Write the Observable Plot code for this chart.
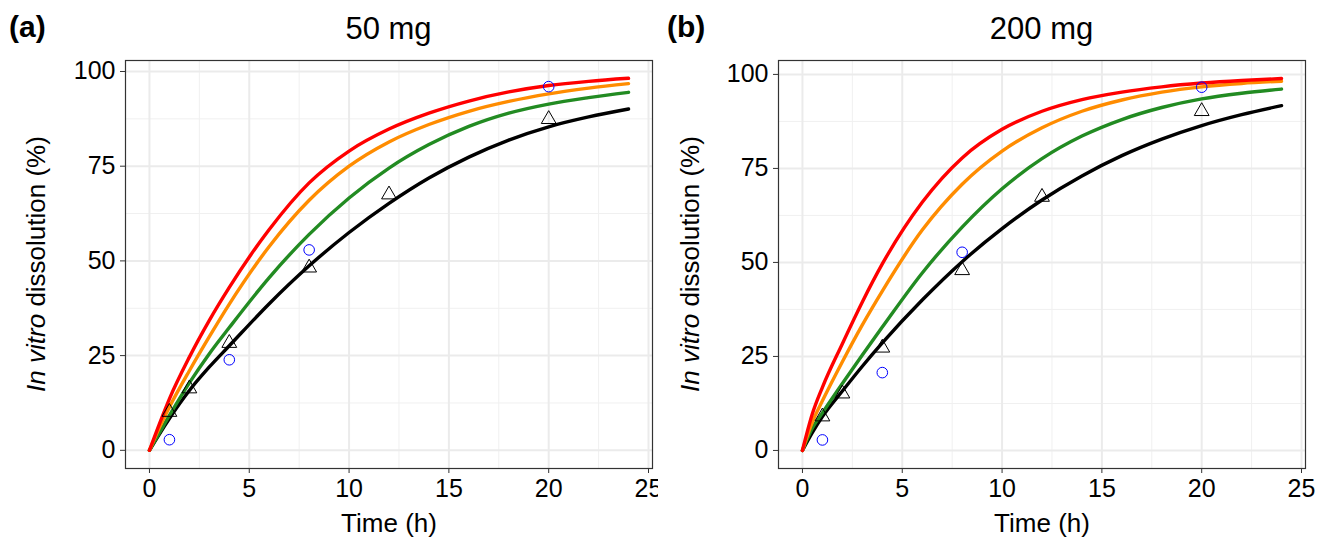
<!DOCTYPE html>
<html><head><meta charset="utf-8">
<script src="https://cdn.jsdelivr.net/npm/d3@7"></script>
<script src="https://cdn.jsdelivr.net/npm/@observablehq/plot@0.6"></script>
<style>
body{margin:0;background:#fff;font-family:"Liberation Sans",Arial,sans-serif;}
#wrap{position:relative;width:1317px;height:538px;overflow:hidden;background:#fff}
.panel{position:absolute;top:0;height:538px}
.hdr{position:relative;height:50px}
.tag{position:absolute;left:9px;top:10px;font-weight:bold;font-size:30px;color:#000}
.ttl{position:absolute;top:11px;font-size:31px;color:#000;transform:translateX(-50%);white-space:nowrap}
</style></head><body><div id="wrap"></div>
<script>
// ---- data ----
const times = [0, 0.5, 1, 2, 3, 4, 6, 8, 10, 12, 14, 16, 18, 20, 22, 24];
// panel (a) 50 mg
const a_red    = [0, 7.0, 13.6, 24.6, 34.3, 43.0, 58.3, 70.6, 79.0, 84.8, 89.0, 92.2, 94.6, 96.3, 97.4, 98.2];
const a_orange = [0, 6.0, 11.4, 21.0, 30.0, 38.6, 53.8, 66.0, 75.0, 81.4, 86.0, 89.5, 92.1, 94.1, 95.6, 96.8];
const a_green  = [0, 4.6, 9.2, 17.8, 25.5, 32.4, 45.6, 57.0, 66.6, 74.5, 80.7, 85.5, 89.0, 91.4, 93.1, 94.5];
const a_black  = [0, 4.3, 8.4, 15.8, 22.0, 27.6, 38.7, 48.7, 57.5, 65.2, 71.9, 77.4, 81.9, 85.4, 88.0, 90.1];
const a_circT = [1, 4, 8, 20];
const a_circV = [2.8, 23.9, 52.9, 96.0];
const a_triT  = [1, 2, 4, 8, 12, 20];
const a_triV  = [10.1, 16.3, 28.3, 48.2, 67.5, 87.4];
// panel (b) 200 mg
const b_red    = [0, 9.8, 16.8, 28.4, 39.5, 49.6, 66.0, 77.8, 85.4, 90.2, 93.3, 95.3, 96.7, 97.7, 98.4, 98.9];
const b_orange = [0, 7.6, 13.2, 23.6, 33.4, 42.4, 58.6, 70.8, 79.6, 85.8, 90.2, 93.2, 95.3, 96.7, 97.6, 98.2];
const b_green  = [0, 6.0, 10.0, 17.8, 25.4, 32.8, 47.2, 59.4, 69.6, 77.6, 83.6, 88.0, 91.2, 93.5, 95.0, 96.1];
const b_black  = [0, 4.8, 9.0, 15.8, 22.4, 28.6, 40.0, 50.2, 59.0, 66.6, 73.0, 78.4, 82.8, 86.4, 89.3, 91.7];
const b_circT = [1, 4, 8, 20];
const b_circV = [2.8, 20.7, 52.7, 96.6];
const b_triT  = [1, 2, 4, 8, 12, 20];
const b_triV  = [9.0, 15.1, 27.3, 47.9, 67.4, 90.2];
// ticks / labels
const xTicks = [0, 5, 10, 15, 20, 25];
const xMinor = [2.5, 7.5, 12.5, 17.5, 22.5];
const yTicks = [0, 25, 50, 75, 100];
const yMinor = [12.5, 37.5, 62.5, 87.5];
const xLabel = "Time (h)";
const yLabelItalic = "In vitro";
const yLabelRest = " dissolution (%)";
const panels = [
  {tag: "(a)", title: "50 mg", left: 0, width: 658, mL: 125, mR: 6, yDom: [-4.8, 102.9], ylabX: 36,
   red: a_red, orange: a_orange, green: a_green, black: a_black, circT: a_circT, circV: a_circV, triT: a_triT, triV: a_triV},
  {tag: "(b)", title: "200 mg", left: 658, width: 659, mL: 120, mR: 12, yDom: [-4.8, 103.7], ylabX: 32,
   red: b_red, orange: b_orange, green: b_green, black: b_black, circT: b_circT, circV: b_circV, triT: b_triT, triV: b_triV}
];
const colors = {black: "#000000", green: "#228B22", orange: "#FF8C00", red: "#FF0000"};

const wrap = document.getElementById("wrap");
const H = 488, mT = 10, mB = 70;
for (const p of panels) {
  const div = document.createElement("div");
  div.className = "panel";
  div.style.left = p.left + "px";
  div.style.width = p.width + "px";
  const hdr = document.createElement("div");
  hdr.className = "hdr";
  const tag = document.createElement("div"); tag.className = "tag"; tag.textContent = p.tag;
  const ttl = document.createElement("div"); ttl.className = "ttl"; ttl.textContent = p.title;
  ttl.style.left = (p.mL + (p.width - p.mL - p.mR) / 2) + "px";
  hdr.append(tag, ttl);
  div.append(hdr);
  const series = ["black", "green", "orange", "red"].map(k => ({k, data: times.map((t, i) => ({t, v: p[k][i]}))}));
  const circ = p.circT.map((t, i) => ({t, v: p.circV[i]}));
  const tri = p.triT.map((t, i) => ({t, v: p.triV[i]}));
  const svg = Plot.plot({
    width: p.width, height: H,
    marginLeft: p.mL, marginRight: p.mR, marginTop: mT, marginBottom: mB,
    x: {domain: [-1.2, 25.2]},
    y: {domain: p.yDom},
    style: {fontFamily: "Liberation Sans, Arial, sans-serif", background: "white", overflow: "visible"},
    marks: [
      Plot.gridX(xMinor, {stroke: "#f0f0f0", strokeOpacity: 1, strokeWidth: 1}),
      Plot.gridY(yMinor, {stroke: "#f0f0f0", strokeOpacity: 1, strokeWidth: 1}),
      Plot.gridX(xTicks, {stroke: "#ebebeb", strokeOpacity: 1, strokeWidth: 2}),
      Plot.gridY(yTicks, {stroke: "#ebebeb", strokeOpacity: 1, strokeWidth: 2}),
      ...series.map(s => Plot.line(s.data, {x: "t", y: "v", stroke: colors[s.k], strokeWidth: 3.4, curve: "monotone-x"})),
      Plot.dot(tri, {x: "t", y: "v", symbol: "triangle", r: 5.5, stroke: "#000", strokeWidth: 1, fill: "none"}),
      Plot.dot(circ, {x: "t", y: "v", symbol: "circle", r: 5.3, stroke: "#0000FF", strokeWidth: 1, fill: "none"}),
      Plot.frame({stroke: "#333", strokeWidth: 1.2}),
      Plot.axisX(xTicks, {tickSize: 5, tickPadding: 6, fontSize: 25, stroke: "#333", fill: "#000", label: null, tickFormat: d => String(d)}),
      Plot.axisY(yTicks, {tickSize: 5, tickPadding: 5, fontSize: 25, stroke: "#333", fill: "#000", label: null, tickFormat: d => String(d)}),
      Plot.text([xLabel], {frameAnchor: "bottom", dy: 55, text: d => d, fontSize: 26, fill: "#000", lineAnchor: "middle"})
    ]
  });
  // rotated y label with italic part
  const s = d3.select(svg);
  const cy = mT + (H - mT - mB) / 2;
  const t = s.append("text")
    .attr("transform", `translate(${p.ylabX},${cy}) rotate(-90)`)
    .attr("text-anchor", "middle").attr("dominant-baseline", "central")
    .attr("font-size", 26).attr("fill", "#000");
  t.append("tspan").attr("font-style", "italic").text(yLabelItalic);
  t.append("tspan").text(yLabelRest);
  div.append(svg);
  wrap.append(div);
}
</script>
</body></html>
